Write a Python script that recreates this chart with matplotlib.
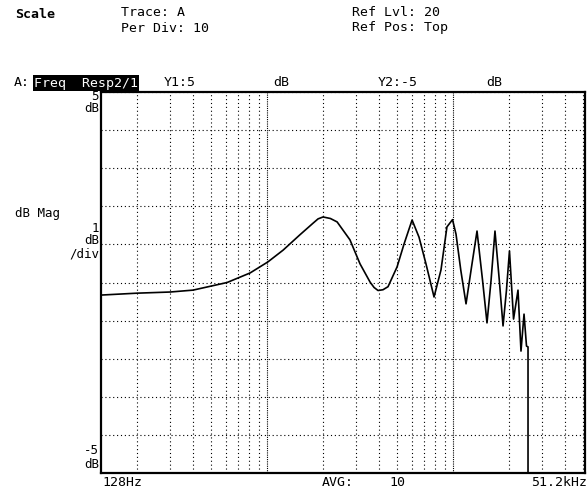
import matplotlib
matplotlib.use("Agg")
import matplotlib.pyplot as plt
from matplotlib.ticker import FixedLocator, NullFormatter

# trace (Hz, dB)
freq = [128, 200, 301, 400, 610, 810, 1010, 1220, 1500, 1770, 1880, 2000,
        2190, 2380, 2790, 3160, 3580, 3760, 3950, 4200, 4470, 5000, 5450,
        6020, 6560, 7150, 7900, 8610, 9270, 9930, 10370, 11005, 11740,
        12570, 13450, 14410, 15220, 16000, 16800, 17730, 18560, 19360,
        20100, 21140, 22340, 23180, 24070, 24820, 25290, 25290]
mag = [-0.33, -0.28, -0.25, -0.20, 0.0, 0.25, 0.54, 0.85, 1.25, 1.56, 1.67,
       1.72, 1.68, 1.59, 1.12, 0.49, 0.01, -0.13, -0.21, -0.19, -0.11, 0.41,
       1.01, 1.64, 1.19, 0.49, -0.38, 0.33, 1.46, 1.65, 1.27, 0.32, -0.56,
       0.41, 1.35, 0.05, -1.06, 0.05, 1.35, 0.05, -1.14, -0.21, 0.83,
       -0.96, -0.20, -1.80, -0.83, -1.67, -1.69, -6.0]

major_x = [1000, 10000]
minor_x = [200, 300, 400, 500, 600, 700, 800, 900,
           2000, 3000, 4000, 5000, 6000, 7000, 8000, 9000,
           20000, 30000, 40000, 50000]
y_lines = list(range(-5, 6))

W, H = 588, 491
fig = plt.figure(figsize=(W / 100, H / 100), dpi=100)
ax = fig.add_axes([101 / W, 1 - 473 / H, 484 / W, 381 / H])

ax.set_xscale("log")
ax.set_xlim(128, 51200)
ax.set_ylim(-5, 5)
ax.xaxis.set_major_locator(FixedLocator(major_x))
ax.xaxis.set_minor_locator(FixedLocator(minor_x))
ax.xaxis.set_major_formatter(NullFormatter())
ax.xaxis.set_minor_formatter(NullFormatter())
ax.set_yticks(y_lines)
ax.set_yticklabels([])
ax.tick_params(which="both", length=0)

ax.grid(axis="x", which="major", color="black", lw=0.8, ls=(0, (1, 1)))
ax.grid(axis="x", which="minor", color="black", lw=0.8, ls=(0, (1, 2.5)))
ax.grid(axis="y", which="major", color="black", lw=0.8, ls=(0, (1, 2.5)))

for s in ax.spines.values():
    s.set_linewidth(1.6)

ax.plot(freq, mag, color="black", lw=1.2)

mono = "DejaVu Sans Mono"
fs = 9.5


def txt(x, y, s, ha="left", size=fs, **kw):
    fig.text(x / W, 1 - y / H, s, ha=ha, va="center", family=mono,
             fontsize=size, **kw)


txt(15, 15, "Scale", weight="bold")
txt(121, 12, "Trace: A")
txt(121, 28, "Per Div: 10")
txt(352, 12, "Ref Lvl: 20")
txt(352, 28, "Ref Pos: Top")

txt(14, 83, "A:")
txt(34, 83, "Freq  Resp2/1", color="white",
    bbox=dict(facecolor="black", edgecolor="none", pad=1.0))
txt(164, 83, "Y1:5")
txt(273, 83, "dB")
txt(378, 83, "Y2:-5")
txt(486, 83, "dB")

side = 9
txt(99, 97, "5", ha="right", size=side)
txt(99, 109, "dB", ha="right", size=side)
txt(15, 214, "dB Mag", size=side)
txt(99, 229, "1", ha="right", size=side)
txt(99, 241, "dB", ha="right", size=side)
txt(99, 254, "/div", ha="right", size=side)
txt(99, 450, "-5", ha="right", size=side)
txt(99, 465, "dB", ha="right", size=side)

txt(102, 483, "128Hz")
txt(322, 483, "AVG:")
txt(389, 483, "10")
txt(587, 483, "51.2kHz", ha="right")

fig.savefig("out.png", dpi=100)
